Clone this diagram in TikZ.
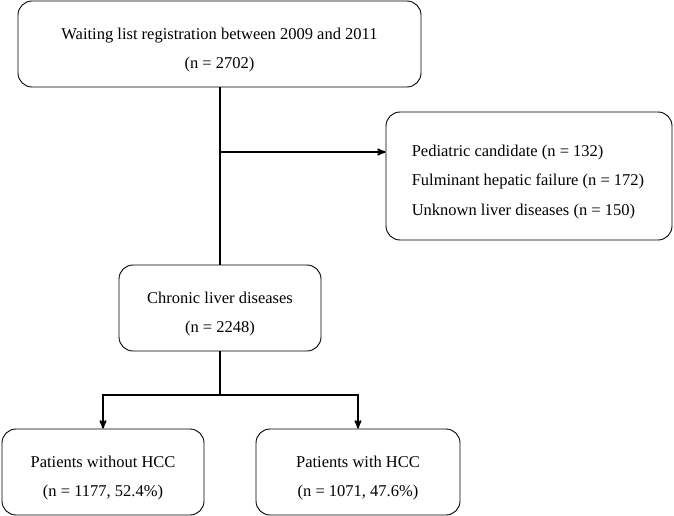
\documentclass[tikz,border=0pt]{standalone}
\usepackage{fontspec}
\setmainfont{Liberation Serif}
\usetikzlibrary{arrows}

\begin{document}
\begin{tikzpicture}[
	x=1pt,y=-1pt, % work in pixels, top down
	>=stealth', % small arrowheads
	box/.style={draw,rounded corners=14pt,line width=0.9pt,inner sep=0pt},
	txt/.style={inner sep=0pt,yshift=-6pt,align=center,font=\fontsize{16.5}{29.5}\selectfont},
	flow/.style={line width=1.8pt}
]
\useasboundingbox (0,0) rectangle (674,516);

\node[box,minimum width=403pt,minimum height=86pt](reg) at (219.5,44){};
\node[box,minimum width=286pt,minimum height=128pt](excl) at (529,176){};
\node[box,minimum width=202pt,minimum height=86pt](cld) at (220,308){};
\node[box,minimum width=202pt,minimum height=86pt](nohcc) at (103,472){};
\node[box,minimum width=204pt,minimum height=86pt](hcc) at (358,472){};

% texts, a little below the box centres
\node[txt](reg-t) at (reg) {Waiting list registration between 2009 and 2011\\(n = 2702)};
\node[txt,anchor=west,align=left](excl-t) at ([xshift=26pt]excl.west)
	{Pediatric candidate (n = 132)\\Fulminant hepatic failure (n = 172)\\Unknown liver diseases (n = 150)};
\node[txt](cld-t) at (cld) {Chronic liver diseases\\(n = 2248)};
\node[txt](nohcc-t) at (nohcc) {Patients without HCC\\(n = 1177, 52.4\%)};
\node[txt](hcc-t) at (hcc) {Patients with HCC\\(n = 1071, 47.6\%)};

\coordinate (split) at (220,152);
\coordinate (fork) at (220,395);

\draw[flow] (reg.south -| cld.north) -- (cld.north);
\draw[flow,->] (split) -- (split -| excl.west);
\draw[flow] (cld.south) -- (fork);
\draw[flow,->] (fork) -| (nohcc.north);
\draw[flow,->] (fork) -| (hcc.north);
\end{tikzpicture}
\end{document}
